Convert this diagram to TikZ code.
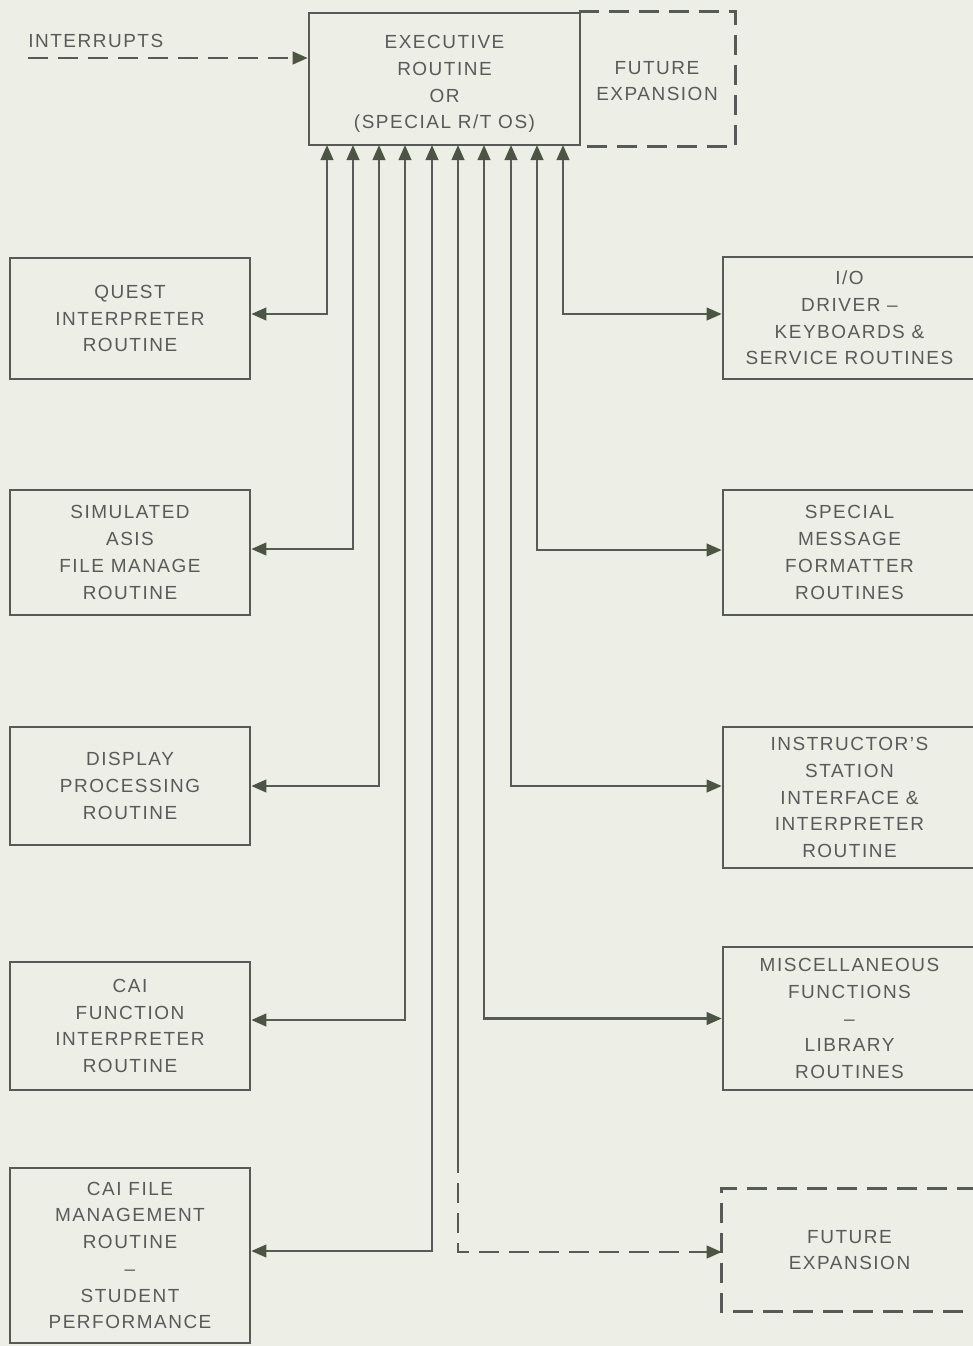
\documentclass[tikz,border=0pt]{standalone}
\usepackage{fontspec}
\setmainfont{Liberation Sans}[LetterSpace=8]
\usetikzlibrary{arrows.meta}

\definecolor{paper}{RGB}{237,238,230}
\definecolor{ink}{RGB}{88,90,88}
\definecolor{tipink}{RGB}{76,84,68}
\definecolor{label}{RGB}{90,90,90}

\begin{document}
\begin{tikzpicture}[
  x=0.02cm, y=-0.02cm,
  box/.style={rectangle, draw=ink, line width=1.5pt, align=center, text=label, font=\fontsize{10.8}{15.2}\selectfont, inner sep=0pt},
  leftbox/.style={box, minimum width=4.8cm},
  rightbox/.style={box, minimum width=5.06cm},
  dashline/.style={draw=ink, line width=1.5pt, dash pattern=on 0.4cm off 0.2cm},
  arrow/.style={{Triangle[length=0.3cm, width=0.25cm, color=tipink]}-{Triangle[length=0.3cm, width=0.25cm, color=tipink]}, draw=ink, line width=1.4pt}
]

\fill[paper] (0,0) rectangle (973,1346);
\useasboundingbox (0,0) rectangle (973,1346);

% Top - executive and spare room beside it
\node[box, draw=none, minimum width=3.08cm, minimum height=2.64cm] (future-top) at (657,81) {FUTURE\\EXPANSION};
\draw[dashline] ([yshift=0.04cm]future-top.north west) -- ([yshift=0.04cm]future-top.north east) -- ([yshift=0.04cm]future-top.south east) -- ([yshift=0.04cm]future-top.south west);
\node[box, minimum width=5.42cm, minimum height=2.64cm, text height=59pt] (exec) at (444.5,79) {EXECUTIVE\\ROUTINE\\OR\\(SPECIAL R/T OS)};

% Interrupts coming in
\node[anchor=west, text=label, font=\fontsize{10.8}{15.2}\selectfont, inner sep=0pt] (interrupts) at (28,41) {INTERRUPTS};
\coordinate (int-start) at (28,58);
\draw[dashline, -{Triangle[length=0.3cm, width=0.25cm, color=tipink]}] (int-start) -- (int-start -| exec.west);

% Left column
\node[leftbox, minimum height=2.42cm] (quest) at (130,318.5) {QUEST\\INTERPRETER\\ROUTINE};
\node[leftbox, minimum height=2.5cm] (asis) at (130,552.5) {SIMULATED\\ASIS\\FILE MANAGE\\ROUTINE};
\node[leftbox, minimum height=2.36cm] (display) at (130,786) {DISPLAY\\PROCESSING\\ROUTINE};
\node[leftbox, minimum height=2.56cm] (cai-func) at (130,1026) {CAI\\FUNCTION\\INTERPRETER\\ROUTINE};
\node[leftbox, minimum height=3.5cm] (cai-file) at (130,1255.5) {CAI FILE\\MANAGEMENT\\ROUTINE\\–\\STUDENT\\PERFORMANCE};

% Right column
\node[rightbox, minimum height=2.44cm] (io) at (849.5,318) {I/O\\DRIVER –\\KEYBOARDS \&\\SERVICE ROUTINES};
\node[rightbox, minimum height=2.5cm] (message) at (849.5,552.5) {SPECIAL\\MESSAGE\\FORMATTER\\ROUTINES};
\node[rightbox, minimum height=2.82cm] (instructor) at (849.5,797.5) {INSTRUCTOR’S\\STATION\\INTERFACE \&\\INTERPRETER\\ROUTINE};
\node[rightbox, minimum height=2.86cm] (misc) at (849.5,1018.5) {MISCELLANEOUS\\FUNCTIONS\\–\\LIBRARY\\ROUTINES};
\node[rightbox, draw=none, minimum height=2.4cm] (future-low) at (849.5,1250) {FUTURE\\EXPANSION};
\draw[dashline] (future-low.north east) -- (future-low.north west) -- (future-low.south west) -- (future-low.south east);

% Entry points along the bottom of the executive
\foreach \i/\x in {1/327, 2/353, 3/379, 4/405, 5/432, 6/458, 7/484, 8/511, 9/537, 10/563}
  \coordinate (e\i) at (\x,145);

% Left side links
\draw[arrow] ([yshift=0.09cm]quest.east) -| (e1);
\draw[arrow] ([yshift=0.07cm]asis.east) -| (e2);
\draw[arrow] (display.east) -| (e3);
\draw[arrow] ([yshift=0.12cm]cai-func.east) -| (e4);
\draw[arrow] ([yshift=0.09cm]cai-file.east) -| (e5);

% Right side links
\draw[arrow] ([yshift=0.08cm]io.west) -| (e10);
\draw[arrow] ([yshift=0.05cm]message.west) -| (e9);
\draw[arrow] ([yshift=0.23cm]instructor.west) -| (e8);
\draw[arrow] (misc.west) -| (e7);

% Spare link, dashed at the low end
\coordinate (spare) at (458,1153);
\draw[draw=ink, line width=1.4pt, -{Triangle[length=0.3cm, width=0.25cm, color=tipink]}] (spare) -- (e6);
\draw[dashline, -{Triangle[length=0.3cm, width=0.25cm, color=tipink]}] (spare) |- ([yshift=-0.04cm]future-low.west);

\end{tikzpicture}
\end{document}
